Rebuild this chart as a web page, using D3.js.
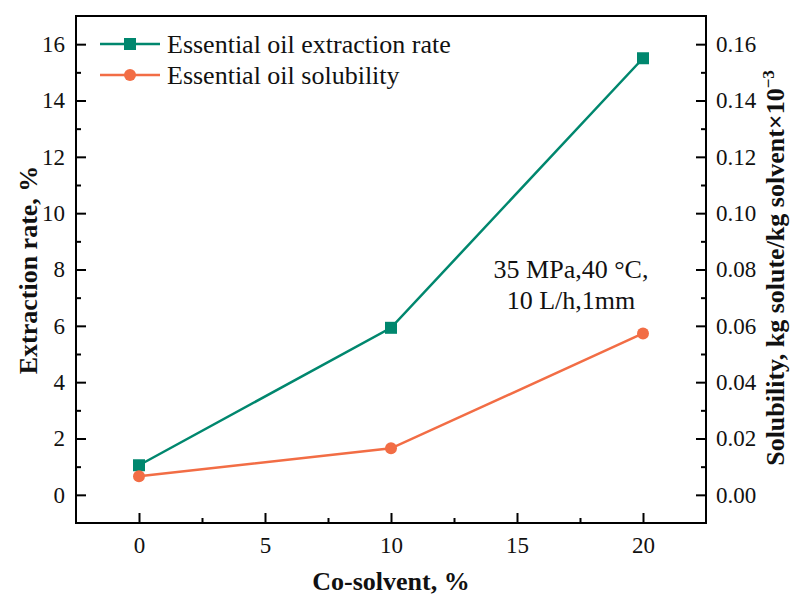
<!DOCTYPE html>
<html>
<head>
<meta charset="utf-8">
<script src="https://cdn.jsdelivr.net/npm/d3@7"></script>
<style>
  body { margin: 0; background: #fff; }
  text { font-family: "Liberation Serif", "Times New Roman", serif; fill: #111; }
</style>
</head>
<body>
<svg id="chart" width="791" height="597"></svg>
<script>
// Co-solvent share (%) and measured responses
const coSolvent = [0, 10, 20];
const extractionRate = [1.05, 5.93, 15.5];        // %, left axis
const solubility = [0.0066, 0.0165, 0.0573];      // kg solute/kg solvent ×10^-3, right axis
const xTicks = [0, 5, 10, 15, 20];
const xMinor = [2.5, 7.5, 12.5, 17.5];
const yLeftTicks = [0, 2, 4, 6, 8, 10, 12, 14, 16];
const yRightTicks = [0, 0.02, 0.04, 0.06, 0.08, 0.10, 0.12, 0.14, 0.16];
const seriesNames = ["Essential oil extraction rate", "Essential oil solubility"];

const green = "#00876E", orange = "#F26D45";
const svg = d3.select("#chart");
const m = { left: 76, right: 706, top: 16, bottom: 523 };

const x = d3.scaleLinear().domain([-2.5, 22.5]).range([m.left, m.right]);
const yL = d3.scaleLinear().domain([-1, 17]).range([m.bottom, m.top]);
const yR = d3.scaleLinear().domain([-0.01, 0.17]).range([m.bottom, m.top]);

// frame
svg.append("rect").attr("x", m.left).attr("y", m.top)
  .attr("width", m.right - m.left).attr("height", m.bottom - m.top)
  .attr("fill", "none").attr("stroke", "#000").attr("stroke-width", 2);

function minorBetween(ticks) {
  const out = [];
  for (let i = 0; i < ticks.length - 1; i++) out.push((ticks[i] + ticks[i + 1]) / 2);
  return out;
}
const tickFont = 23;

// bottom axis (ticks point inward)
const gx = svg.append("g").attr("transform", `translate(0,${m.bottom})`)
  .call(d3.axisBottom(x).tickValues(xTicks).tickSize(-10).tickPadding(14).tickSizeOuter(0));
gx.append("g").call(d3.axisBottom(x).tickValues(xMinor).tickSize(-5).tickFormat("").tickSizeOuter(0));
// left axis
const gl = svg.append("g").attr("transform", `translate(${m.left},0)`)
  .call(d3.axisLeft(yL).tickValues(yLeftTicks).tickSize(-10).tickPadding(11).tickFormat(d3.format("d")).tickSizeOuter(0));
gl.append("g").call(d3.axisLeft(yL).tickValues(minorBetween(yLeftTicks)).tickSize(-5).tickFormat("").tickSizeOuter(0));
// right axis
const gr = svg.append("g").attr("transform", `translate(${m.right},0)`)
  .call(d3.axisRight(yR).tickValues(yRightTicks).tickSize(-10).tickPadding(10).tickFormat(d3.format(".2f")).tickSizeOuter(0));
gr.append("g").call(d3.axisRight(yR).tickValues(minorBetween(yRightTicks)).tickSize(-5).tickFormat("").tickSizeOuter(0));

[gx, gl, gr].forEach(g => {
  g.selectAll(".domain").remove();
  g.selectAll("line").attr("stroke", "#000").attr("stroke-width", 2);
  g.selectAll("text").attr("font-size", tickFont).attr("font-family", "Liberation Serif").attr("fill", "#111");
});

// series lines and markers
const lineL = d3.line().x((d, i) => x(coSolvent[i])).y(d => yL(d));
const lineR = d3.line().x((d, i) => x(coSolvent[i])).y(d => yR(d));

svg.append("path").datum(extractionRate).attr("d", lineL)
  .attr("fill", "none").attr("stroke", green).attr("stroke-width", 2.5);
svg.append("path").datum(solubility).attr("d", lineR)
  .attr("fill", "none").attr("stroke", orange).attr("stroke-width", 2.5);

svg.selectAll(".sq").data(extractionRate).enter().append("rect")
  .attr("x", (d, i) => x(coSolvent[i]) - 6).attr("y", d => yL(d) - 6)
  .attr("width", 12).attr("height", 12).attr("fill", green);
svg.selectAll(".ci").data(solubility).enter().append("circle")
  .attr("cx", (d, i) => x(coSolvent[i])).attr("cy", d => yR(d))
  .attr("r", 6).attr("fill", orange);

// legend
const legend = svg.append("g");
[[green, "sq"], [orange, "ci"]].forEach(([c, shape], i) => {
  const ly = 44 + i * 31;
  legend.append("line").attr("x1", 100).attr("x2", 160).attr("y1", ly).attr("y2", ly)
    .attr("stroke", c).attr("stroke-width", 2.5);
  if (shape === "sq") legend.append("rect").attr("x", 124).attr("y", ly - 6).attr("width", 12).attr("height", 12).attr("fill", c);
  else legend.append("circle").attr("cx", 130).attr("cy", ly).attr("r", 6).attr("fill", c);
  legend.append("text").attr("x", 167).attr("y", ly + 9).attr("font-size", 26).text(seriesNames[i]);
});

// operating conditions note
const note = svg.append("text").attr("text-anchor", "middle").attr("font-size", 26);
note.append("tspan").attr("x", 571).attr("y", 278).text("35 MPa,40 \u00B0C,");
note.append("tspan").attr("x", 571).attr("y", 309).text("10 L/h,1mm");

// axis titles
svg.append("text").attr("x", 391).attr("y", 590).attr("text-anchor", "middle")
  .attr("font-size", 26).attr("font-weight", "bold").text("Co-solvent, %");
svg.append("text").attr("transform", "translate(37,270) rotate(-90)").attr("text-anchor", "middle")
  .attr("font-size", 26).attr("font-weight", "bold").text("Extraction rate, %");
const rt = svg.append("text").attr("transform", "translate(784,268) rotate(-90)").attr("text-anchor", "middle")
  .attr("font-size", 26).attr("font-weight", "bold");
rt.append("tspan").text("Solubility, kg solute/kg solvent\u00D710");
rt.append("tspan").attr("dy", -10).attr("font-size", 17).text("\u22123");
</script>
</body>
</html>
